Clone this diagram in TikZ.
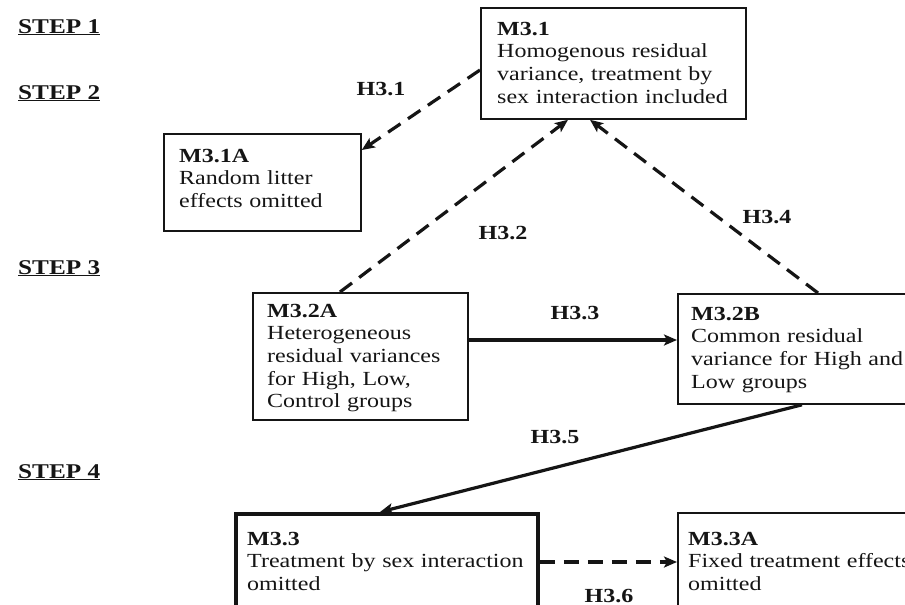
\documentclass[tikz,border=0pt]{standalone}
\usepackage{fontspec}
\setmainfont{Liberation Serif}[FakeStretch=1.2]
\usetikzlibrary{arrows.meta,calc}
\definecolor{ink}{HTML}{151515}
\begin{document}
\begin{tikzpicture}[x=1pt,y=-1pt,
  box/.style={draw=ink, line width=1.8pt, inner sep=0pt, anchor=north west},
  thickbox/.style={box, line width=3.8pt},
  txt/.style={anchor=base west, inner sep=0pt, text width=320pt, align=left, text=ink,
    font=\fontsize{20}{22.7}\selectfont},
  lab/.style={inner sep=0pt, text=ink, font=\bfseries\fontsize{20}{23}\selectfont},
  steplab/.style={anchor=base west, inner sep=0pt, text=ink, font=\bfseries\fontsize{21}{24}\selectfont},
  conn/.style={draw=ink, line width=3.2pt, -{Stealth[length=13pt,width=11pt,inset=3pt]}},
  dconn/.style={conn, dash pattern=on 15pt off 9pt}
]
\useasboundingbox (0,0) rectangle (905,605);
\clip (0,0) rectangle (905,605);

% step labels
\node[steplab] (s1) at (18,33) {\underline{STEP 1}};
\node[steplab] (s2) at (18,99) {\underline{STEP 2}};
\node[steplab] (s3) at (18,274) {\underline{STEP 3}};
\node[steplab] (s4) at (18,478) {\underline{STEP 4}};

% boxes
\node[box, minimum width=265pt, minimum height=111pt] (m31) at (480,7) {};
\node[box, minimum width=197pt, minimum height=97pt] (m31a) at (163,133) {};
\node[box, minimum width=215pt, minimum height=127pt] (m32a) at (252,292) {};
\node[box, minimum width=260pt, minimum height=110pt] (m32b) at (677,293) {};
\node[thickbox, minimum width=302pt, minimum height=130pt] (m33) at (234,512) {};
\node[box, minimum width=260pt, minimum height=130pt] (m33a) at (677,512) {};

% box texts
\node[txt] (t31) at (497,35) {\textbf{M3.1}\\Homogenous residual\\variance, treatment by\\sex interaction included};
\node[txt] (t31a) at (179,162) {\textbf{M3.1A}\\Random litter\\effects omitted};
\node[txt] (t32a) at (267,317) {\textbf{M3.2A}\\Heterogeneous\\residual variances\\for High, Low,\\Control groups};
\node[txt] (t32b) at (691,320) {\textbf{M3.2B}\\Common residual\\variance for High and\\Low groups};
\node[txt] (t33) at (247,545) {\textbf{M3.3}\\Treatment by sex interaction\\omitted};
\node[txt] (t33a) at (688,545) {\textbf{M3.3A}\\Fixed treatment effects\\omitted};

% connectors
\draw[dconn] ($(m31.north west)+(0,63)$) -- ($(m31a.north east)+(0,17)$);
\draw[dconn] ($(m32a.north west)+(88,0)$) -- ($(m31.south west)+(88,0)$);
\draw[dconn] ($(m32b.north west)+(141,0)$) -- ($(m31.south west)+(110,0)$);
\draw[conn] ($(m32a.north east)+(0,48)$) -- ($(m32b.north west)+(0,47)$);
\draw[conn] ($(m32b.south west)+(125,0)$) -- ($(m33.north west)+(146,0)$);
\draw[dconn] ($(m33.north east)+(0,50)$) -- ($(m33a.north west)+(0,50)$);

% connector labels
\node[lab] (h31) at (381,89) {H3.1};
\node[lab] (h32) at (503,233) {H3.2};
\node[lab] (h34) at (767,217) {H3.4};
\node[lab] (h33) at (575,313) {H3.3};
\node[lab] (h35) at (555,437) {H3.5};
\node[lab] (h36) at (609,596) {H3.6};
\end{tikzpicture}
\end{document}
